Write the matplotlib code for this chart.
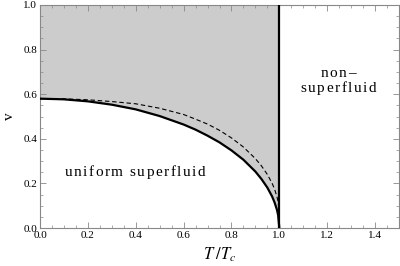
import matplotlib
matplotlib.use("Agg")
import matplotlib.pyplot as plt
from matplotlib.ticker import MultipleLocator

T_vals = [0.0, 0.1, 0.2, 0.3, 0.4, 0.5, 0.6, 0.65, 0.7, 0.75, 0.8, 0.85, 0.9, 0.925, 0.95, 0.97, 0.98, 0.99, 0.995, 1.0]
v_solid = [0.580, 0.577, 0.568, 0.553, 0.532, 0.502, 0.464, 0.441, 0.414, 0.384, 0.348, 0.306, 0.253, 0.220, 0.181, 0.141, 0.115, 0.082, 0.058, 0.0]
v_dashed = [0.580, 0.579, 0.575, 0.567, 0.557, 0.537, 0.509, 0.488, 0.466, 0.438, 0.404, 0.363, 0.311, 0.279, 0.240, 0.200, 0.175, 0.140, 0.118, 0.060]

label_uniform = "uniform superfluid"
label_non = ["non\u2013", "superfluid"]

plt.rcParams['font.family'] = ['Liberation Serif', 'DejaVu Serif']
plt.rcParams['mathtext.fontset'] = 'stix'

DPI = 100
fig = plt.figure(figsize=(4.0, 2.66), dpi=DPI)
ax = fig.add_axes([0.1, 1 - 228/266, 0.8975, 223/266])

ax.fill_between(T_vals, v_solid, 1.0, color='#cccccc', lw=0, zorder=1)
ax.plot(T_vals, v_solid, color='black', lw=1.6, zorder=3, solid_capstyle='butt')
ax.plot(T_vals, v_dashed, color='black', lw=0.8, ls=(0, (4, 2.5)), zorder=3)
ax.plot([1.0, 1.0], [0.0, 1.0], color='black', lw=1.6, zorder=4)

ax.set_xlim(0, 1.5)
ax.set_ylim(0, 1.0)
ax.xaxis.set_major_locator(MultipleLocator(0.2))
ax.xaxis.set_minor_locator(MultipleLocator(0.05))
ax.yaxis.set_major_locator(MultipleLocator(0.2))
ax.yaxis.set_minor_locator(MultipleLocator(0.05))
ax.xaxis.set_major_formatter(plt.FuncFormatter(lambda x, p: f"{x:.1f}"))
ax.yaxis.set_major_formatter(plt.FuncFormatter(lambda x, p: f"{x:.1f}"))
ax.tick_params(which='both', direction='in', top=True, right=True, color='#888888', labelsize=8, pad=2)
ax.tick_params(which='major', length=4, width=0.6)
ax.tick_params(which='minor', length=2, width=0.5)
for s in ax.spines.values():
    s.set_color('#888888')
    s.set_linewidth(0.8)

ax.set_xlabel(r"$T\;/T_c$", fontsize=12, labelpad=4)
ax.set_ylabel("v", fontsize=11, va='center')
ax.yaxis.set_label_coords(-0.085, 0.5)

renderer = fig.canvas.get_renderer()


def text_width(s, fs):
    t = fig.text(0, 0, s + "|", fontsize=fs)
    w1 = t.get_window_extent(renderer).width
    t.remove()
    t = fig.text(0, 0, "|", fontsize=fs)
    w2 = t.get_window_extent(renderer).width
    t.remove()
    return w1 - w2


def spaced_text(x, y, s, fs, spacing_px):
    total = text_width(s, fs) + (len(s) - 1) * spacing_px
    start = -total / 2
    for i, ch in enumerate(s):
        if ch == " ":
            continue
        dx = start + text_width(s[:i], fs) + i * spacing_px
        ax.annotate(ch, xy=(x, y), xycoords='data', xytext=(dx * 72 / DPI, 0),
                    textcoords='offset points', fontsize=fs, ha='left', va='baseline', zorder=5)


spaced_text(0.396, 0.233, label_uniform, 11, 1.5)
spaced_text(1.246, 0.677, label_non[0], 11, 1.5)
spaced_text(1.246, 0.61, label_non[1], 11, 1.5)

fig.savefig("out.png", dpi=DPI)
